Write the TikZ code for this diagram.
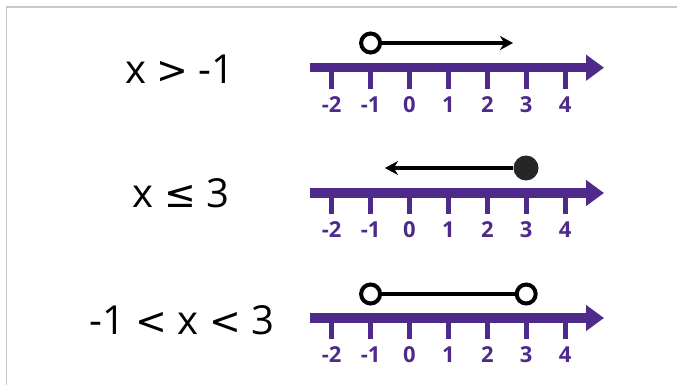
\documentclass[tikz,border=0pt]{standalone}
\usepackage{fontspec}
\setmainfont{Open Sans}
\newfontfamily\symfont{DejaVu Sans}
\usetikzlibrary{arrows.meta}
\definecolor{nlpurple}{RGB}{78,42,138}
\definecolor{frame}{RGB}{200,200,200}
\tikzset{
  axisline/.style={nlpurple, line width=9.5pt, -{Triangle[length=18pt,width=25pt]}},
  tickmark/.style={nlpurple, line width=5pt},
  ticklab/.style={text=nlpurple, font=\bfseries\fontsize{22}{25}\selectfont, inner sep=0pt, anchor=center},
  ineq/.style={font=\fontsize{40}{44}\selectfont, inner sep=0pt, anchor=center},
  opencirc/.style={circle, draw=black, fill=white, line width=4pt, minimum size=19pt, inner sep=0pt},
  filledcirc/.style={circle, fill=black!85, minimum size=25pt, inner sep=0pt},
  rayline/.style={black, line width=3.5pt, -{Stealth[length=13pt,width=14pt]}},
  segline/.style={black, line width=3.5pt}
}
\newcommand\rel[1]{{\symfont\fontsize{38}{42}\selectfont #1}}
\begin{document}
\begin{tikzpicture}[x=1pt,y=-1pt]
\useasboundingbox (0,0) rectangle (677,385);
\draw[frame, line width=1.3pt] (6.5,385) -- (6.5,7) -- (677,7);

% number lines
\foreach \r/\Y in {1/67.7, 2/193, 3/318}{
  \coordinate (s\r) at (310,\Y);
  \coordinate (e\r) at (604,\Y);
  \foreach \v [count=\i] in {-2,-1,0,1,2,3,4}{
    \coordinate (t\r\i) at ({409.5+38.9*\v},\Y);
    \draw[tickmark] (t\r\i) -- ++(0,21);
    \node[ticklab] (l\r\i) at ({409.5+38.9*\v},\Y+37) {\v};
  }
  \draw[axisline] (s\r) -- (e\r);
}

% row 1: x > -1
\node[ineq] (q1) at (180,69) {x \rel{>} -1};
\node[opencirc] (a1) at (370.6,43) {};
\coordinate (a1end) at (513,43);
\draw[rayline] (a1) -- (a1end);

% row 2: x <= 3
\node[ineq] (q2) at (181,193) {x \rel{≤} 3};
\node[filledcirc] (b1) at (526,168) {};
\coordinate (b1end) at (385,168);
\draw[rayline] (b1) -- (b1end);

% row 3: -1 < x < 3
\node[ineq] (q3) at (182,320) {-1 \rel{<} x \rel{<} 3};
\node[opencirc] (c1) at (370.6,294) {};
\node[opencirc] (c2) at (526.2,294) {};
\draw[segline] (c1) -- (c2);
\end{tikzpicture}
\end{document}
